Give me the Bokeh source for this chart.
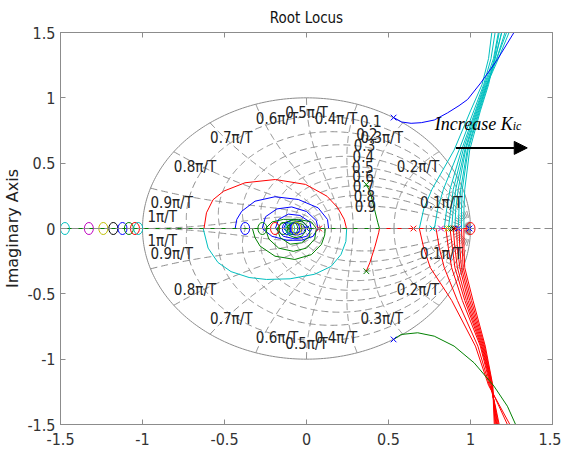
import numpy as np
from bokeh.plotting import figure
from bokeh.models import Label, Arrow, NormalHead, Span, LinearAxis, FixedTicker
from bokeh.embed import file_html
from bokeh.resources import INLINE

# ---------------- data ----------------
x_ticks = [-1.5, -1, -0.5, 0, 0.5, 1, 1.5]
x_tick_labels = ["-1.5", "-1", "-0.5", "0", "0.5", "1", "1.5"]
y_ticks = [-1.5, -1, -0.5, 0, 0.5, 1, 1.5]
y_tick_labels = ["-1.5", "-1", "-0.5", "0", "0.5", "1", "1.5"]

zeta_levels = [0.1, 0.2, 0.3, 0.4, 0.5, 0.6, 0.7, 0.8, 0.9]
zeta_labels = ["0.1", "0.2", "0.3", "0.4", "0.5", "0.6", "0.7", "0.8", "0.9"]
wn_levels = [0.1, 0.2, 0.3, 0.4, 0.5, 0.6, 0.7, 0.8, 0.9, 1.0]   # multiples of pi/T
wn_labels = ["0.1π/T", "0.2π/T", "0.3π/T", "0.4π/T", "0.5π/T",
             "0.6π/T", "0.7π/T", "0.8π/T", "0.9π/T", "1π/T"]

# zeros (o) and poles (x)
zero_x = [-1.473, -1.327, -1.239, -1.178, -1.122, -1.083, -1.046, -1.026,
          -0.374, -0.269, -0.192, -0.142, -0.120, -0.100, -0.081, -0.070, -0.060, 1.0]
zero_y = [0.0] * 18
zero_c = ["c", "m", "y", "k", "b", "g", "r", "c",
          "b", "g", "r", "g", "b", "c", "g", "b", "y", "r"]

pole_x = [0.0, 0.077, 0.531, 0.531, 0.365, 0.365, 0.652, 0.769, 0.820, 0.860,
          0.872, 0.885, 0.898, 0.910, 0.925, 0.994]
pole_y = [0.0, 0.0, 0.849, -0.849, 0.337, -0.327, 0.0, 0.0, 0.0, 0.0,
          0.0, 0.0, 0.0, 0.0, 0.0, 0.0]
pole_c = ["b", "r", "b", "b", "g", "g", "r", "c", "m", "y",
          "y", "g", "k", "r", "b", "b"]

# real-axis branches
green_axis_x = [-1.473, 0.445]
green_axis_y = [0.0, 0.0]
red_axis_x = [0.445, 0.994]
red_axis_y = [0.0, 0.0]

# upper cyan bundle: x at the listed heights
cyan_levels = [0.0, 0.15, 0.3, 0.6, 0.9, 1.1, 1.3, 1.5]
cyan_branches = [
    [0.688, 0.715, 0.765, 0.900, 1.000, 1.070, 1.110, 1.130],
    [0.780, 0.800, 0.835, 0.930, 1.020, 1.080, 1.125, 1.150],
    [0.840, 0.855, 0.875, 0.945, 1.030, 1.085, 1.140, 1.170],
    [0.865, 0.880, 0.895, 0.955, 1.035, 1.090, 1.150, 1.190],
    [0.885, 0.895, 0.910, 0.965, 1.040, 1.095, 1.160, 1.210],
    [0.905, 0.910, 0.925, 0.970, 1.045, 1.100, 1.170, 1.235],
    [0.925, 0.930, 0.940, 0.980, 1.050, 1.100, 1.160, 1.220],
    [0.945, 0.945, 0.950, 0.985, 1.055, 1.105, 1.150, 1.190],
    [0.960, 0.960, 0.965, 0.995, 1.060, 1.110, 1.145, 1.175],
]
# lower red bundle
red_levels = [0.0, -0.15, -0.3, -0.55, -0.9, -1.2, -1.35, -1.5]
red_branches = [
    [0.688, 0.715, 0.755, 0.885, 1.030, 1.110, 1.175, 1.240],
    [0.790, 0.810, 0.840, 0.920, 1.045, 1.115, 1.170, 1.225],
    [0.850, 0.865, 0.885, 0.950, 1.060, 1.120, 1.150, 1.175],
    [0.875, 0.890, 0.905, 0.965, 1.065, 1.125, 1.148, 1.170],
    [0.895, 0.905, 0.920, 0.975, 1.070, 1.128, 1.146, 1.165],
    [0.915, 0.920, 0.935, 0.985, 1.075, 1.130, 1.145, 1.160],
    [0.930, 0.935, 0.945, 0.995, 1.080, 1.132, 1.143, 1.155],
    [0.945, 0.950, 0.955, 1.005, 1.085, 1.134, 1.142, 1.150],
    [0.960, 0.960, 0.965, 1.015, 1.090, 1.136, 1.140, 1.145],
]

# complex-pole branches
blue_up_x = [0.531, 0.580, 0.638, 0.700, 0.779, 0.860, 0.930, 0.982, 1.063, 1.164, 1.265]
blue_up_y = [0.849, 0.815, 0.805, 0.810, 0.830, 0.885, 0.940, 0.987, 1.115, 1.293, 1.500]
green_dn_x = [0.531, 0.577, 0.678, 0.779, 0.900, 1.022, 1.143, 1.225, 1.275]
green_dn_y = [-0.849, -0.811, -0.798, -0.824, -0.900, -1.028, -1.206, -1.360, -1.500]
green_mid_x = [0.364, 0.380, 0.395, 0.415, 0.435, 0.445]
green_mid_y = [0.337, 0.300, 0.247, 0.145, 0.044, 0.0]
red_mid_x = [0.445, 0.440, 0.418, 0.386, 0.364]
red_mid_y = [0.0, -0.033, -0.135, -0.263, -0.327]

# loops around the origin
red_loop_x = [-0.625, -0.610, -0.570, -0.505, -0.375, -0.190, -0.005, 0.125, 0.190, 0.230, 0.244]
red_loop_y = [0.0, 0.120, 0.220, 0.286, 0.350, 0.375, 0.337, 0.247, 0.160, 0.070, 0.0]
cyan_loop_x = [-0.630, -0.600, -0.540, -0.460, -0.350, -0.244, -0.100, 0.050, 0.150, 0.210, 0.240, 0.245]
cyan_loop_y = [0.0, -0.150, -0.260, -0.330, -0.375, -0.390, -0.385, -0.350, -0.290, -0.200, -0.100, 0.0]
blue_loops = [
    ([-0.435, -0.425, -0.395, -0.314, -0.192, -0.050, 0.071, 0.128, 0.135],
     [0.0, 0.070, 0.132, 0.209, 0.243, 0.222, 0.158, 0.069, 0.0]),
    ([-0.27, -0.25, -0.18, -0.09, 0.00, 0.06, 0.07, 0.04, -0.03, -0.12, -0.21, -0.27],
     [0.00, 0.09, 0.15, 0.165, 0.13, 0.06, 0.00, -0.06, -0.09, -0.09, -0.06, 0.00]),
    ([-0.19, -0.17, -0.11, -0.04, 0.02, 0.03, 0.00, -0.07, -0.14, -0.19],
     [0.00, 0.07, 0.11, 0.10, 0.05, -0.01, -0.06, -0.08, -0.06, 0.00]),
    ([-0.14, -0.12, -0.08, -0.03, 0.00, -0.01, -0.05, -0.10, -0.14],
     [0.00, 0.05, 0.07, 0.06, 0.02, -0.03, -0.05, -0.045, 0.00]),
    ([-0.11, -0.09, -0.06, -0.03, -0.03, -0.06, -0.09, -0.11],
     [0.00, 0.035, 0.04, 0.02, -0.02, -0.035, -0.03, 0.00]),
]
green_loops = [
    ([-0.330, -0.314, -0.283, -0.192, -0.071, 0.030, 0.091, 0.111, 0.115],
     [0.0, -0.070, -0.135, -0.212, -0.237, -0.200, -0.122, -0.050, 0.0]),
    ([-0.25, -0.23, -0.17, -0.08, 0.00, 0.05, 0.06, 0.03, -0.05, -0.14, -0.21, -0.25],
     [0.00, -0.08, -0.15, -0.175, -0.15, -0.08, 0.00, 0.05, 0.07, 0.07, 0.05, 0.00]),
    ([-0.18, -0.16, -0.10, -0.03, 0.02, 0.02, -0.02, -0.09, -0.15, -0.18],
     [0.00, -0.07, -0.12, -0.11, -0.06, 0.00, 0.05, 0.06, 0.04, 0.00]),
    ([-0.13, -0.11, -0.07, -0.03, -0.005, -0.02, -0.06, -0.10, -0.13],
     [0.00, -0.05, -0.07, -0.06, -0.02, 0.03, 0.045, 0.035, 0.00]),
]

# ---------------- styling ----------------
COL = {"b": "#0000ff", "g": "#008000", "r": "#ff0000", "c": "#00bfbf",
       "m": "#bf00bf", "y": "#bfbf00", "k": "#000000"}
NARROW = "DejaVu Sans Condensed"
GRID = "#8c8c8c"
AXC = "#333333"

p = figure(width=561, height=451, x_range=(-1.5, 1.5), y_range=(-1.5, 1.5),
           output_backend="svg", toolbar_location=None, title="Root Locus",
           min_border_left=58, min_border_right=9, min_border_top=32, min_border_bottom=27)
p.grid.visible = False
p.background_fill_color = "white"
p.border_fill_color = "white"
p.outline_line_color = GRID
p.title.align = "center"
p.title.text_font = NARROW
p.title.text_font_size = "15px"
p.title.text_font_style = "normal"
p.title.text_color = "#111111"
p.title.standoff = 12

for ax, ticks, labels in ((p.xaxis[0], x_ticks, x_tick_labels), (p.yaxis[0], y_ticks, y_tick_labels)):
    ax.ticker = FixedTicker(ticks=ticks)
    ax.major_label_overrides = {t: l for t, l in zip(ticks, labels)}
    ax.major_tick_in = 5
    ax.major_tick_out = 0
    ax.minor_tick_line_color = None
    ax.axis_line_color = GRID
    ax.major_tick_line_color = GRID
    ax.major_label_text_font = NARROW
    ax.major_label_text_font_size = "16px"
    ax.major_label_text_color = AXC
p.xaxis.major_label_standoff = 8
p.xaxis.axis_label_standoff = 0
p.yaxis.major_label_standoff = 5
p.yaxis.axis_label = "Imaginary Axis"
p.yaxis.axis_label_text_font = "DejaVu Sans"
p.yaxis.axis_label_text_font_size = "16px"
p.yaxis.axis_label_text_font_style = "normal"
p.yaxis.axis_label_text_color = "#222222"
p.yaxis.axis_label_standoff = 2

for side, ticks in (("right", y_ticks), ("above", x_ticks)):
    ax = LinearAxis(ticker=FixedTicker(ticks=ticks), major_tick_in=5, major_tick_out=0,
                    minor_tick_line_color=None, axis_line_color=GRID,
                    major_tick_line_color=GRID, major_label_text_font_size="1px",
                    major_label_text_color=None, major_label_standoff=0,
                    axis_label_standoff=0)
    p.add_layout(ax, side)

# ---------------- zgrid ----------------
DASH = "7 4"
p.add_layout(Span(location=0, dimension="width", line_color=GRID, line_dash=DASH, line_width=1))
th = np.linspace(0, 2 * np.pi, 361)
p.line(np.cos(th), np.sin(th), line_color=GRID, line_width=1)
for z in zeta_levels:
    w = np.linspace(0, np.pi / np.sqrt(1 - z * z), 300)
    zz = np.exp(w * (-z + 1j * np.sqrt(1 - z * z)))
    p.line(zz.real, zz.imag, line_color=GRID, line_dash=DASH, line_width=1)
    p.line(zz.real, -zz.imag, line_color=GRID, line_dash=DASH, line_width=1)
for k in wn_levels:
    wn = k * np.pi
    zt = np.linspace(0, 1, 200)
    zz = np.exp(wn * (-zt + 1j * np.sqrt(1 - zt * zt)))
    p.line(zz.real, zz.imag, line_color=GRID, line_dash=DASH, line_width=1)
    p.line(zz.real, -zz.imag, line_color=GRID, line_dash=DASH, line_width=1)

LAB = dict(text_font=NARROW, text_font_size="15px", text_color="#222222")
for k, txt in zip(wn_levels, wn_labels):
    a = k * np.pi
    cx, cy = np.cos(a), np.sin(a)
    align = "right" if k < 0.5 else ("center" if abs(k - 0.5) < 1e-9 else "left")
    if k >= 1.0:
        p.add_layout(Label(x=cx + 0.03, y=0, text=txt, text_align="left", text_baseline="bottom", y_offset=3, **LAB))
        p.add_layout(Label(x=cx + 0.03, y=0, text=txt, text_align="left", text_baseline="top", y_offset=-3, **LAB))
    else:
        p.add_layout(Label(x=cx, y=cy, text=txt, text_align=align, text_baseline="top", y_offset=-6, **LAB))
        p.add_layout(Label(x=cx, y=-cy, text=txt, text_align=align, text_baseline="bottom", y_offset=6, **LAB))
for z, txt in zip(zeta_levels, zeta_labels):
    w = 1.2
    zz = np.exp(w * (-z + 1j * np.sqrt(1 - z * z)))
    p.add_layout(Label(x=zz.real, y=zz.imag, text=txt, text_align="left", text_baseline="middle", **LAB))

# ---------------- root loci ----------------
LW = 1
for xs in cyan_branches:
    p.line(xs, cyan_levels, line_color=COL["c"], line_width=LW)
for xs in red_branches:
    p.line(xs, red_levels, line_color=COL["r"], line_width=LW)
p.line(red_loop_x, red_loop_y, line_color=COL["r"], line_width=LW)
p.line(cyan_loop_x, cyan_loop_y, line_color=COL["c"], line_width=LW)
for xs, ys in blue_loops:
    p.line(xs, ys, line_color=COL["b"], line_width=LW)
for xs, ys in green_loops:
    p.line(xs, ys, line_color=COL["g"], line_width=LW)
p.line(green_axis_x, green_axis_y, line_color=COL["g"], line_width=LW)
p.line(red_axis_x, red_axis_y, line_color=COL["r"], line_width=LW)
p.line(blue_up_x, blue_up_y, line_color=COL["b"], line_width=LW)
p.line(green_dn_x, green_dn_y, line_color=COL["g"], line_width=LW)
p.line(green_mid_x, green_mid_y, line_color=COL["g"], line_width=LW)
p.line(red_mid_x, red_mid_y, line_color=COL["r"], line_width=LW)

p.ellipse(zero_x, zero_y, width=9, height=12, width_units="screen", height_units="screen",
          fill_color=None, line_color=[COL[c] for c in zero_c], line_width=1)
p.scatter(pole_x, pole_y, marker="x", size=8, line_color=[COL[c] for c in pole_c], line_width=1)

# ---------------- annotation ----------------
p.add_layout(Label(x=1.257, y=0.80, text="Increase K", text_align="right", text_baseline="alphabetic",
                   text_font="Liberation Serif", text_font_style="italic", text_font_size="18px",
                   text_color="#000000"))
p.add_layout(Label(x=1.257, y=0.80, text="ic", text_align="left", text_baseline="alphabetic",
                   y_offset=-2, text_font="Liberation Serif", text_font_style="italic",
                   text_font_size="12px", text_color="#000000"))
p.add_layout(Arrow(end=NormalHead(size=13, fill_color="black", line_color="black"),
                   x_start=0.911, y_start=0.617, x_end=1.346, y_end=0.617,
                   line_color="black", line_width=2))

open("out.html", "w").write(file_html(p, INLINE))
